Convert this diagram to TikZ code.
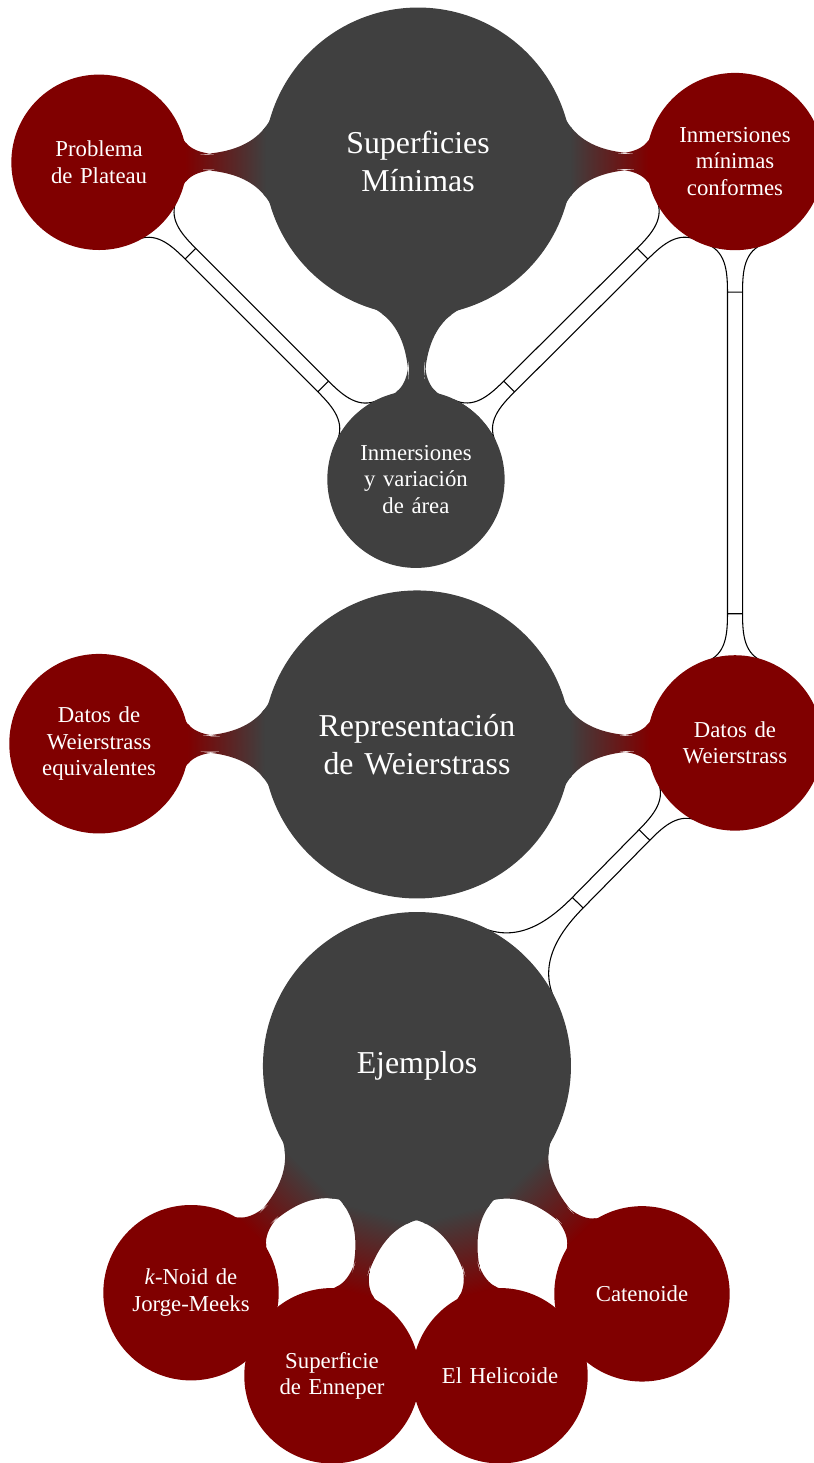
\documentclass[tikz,border=0pt]{standalone}
\usepackage{fontspec}
\setmainfont{Liberation Serif}
\usepackage{tikz}
\usetikzlibrary{mindmap}
\usetikzlibrary{backgrounds}

\colorlet{graycon}{black!75}
\colorlet{redcon}{red!50!black}

\tikzset{
  bigcon/.style={concept, concept color=graycon, text=white, minimum size=4cm,
    text width=3.6cm, align=center, font=\fontsize{11.9}{14.2}\selectfont},
  smallcon/.style={concept, concept color=redcon, text=white, minimum size=2.26cm,
    text width=2cm, align=center, font=\fontsize{8.5}{9.9}\selectfont},
  link/.style={circle connection bar switch color=from (#1) to (redcon)},
  cross/.style={thin, circle connection bar switch color=from (white) to (white)}
}

\begin{document}
\begin{tikzpicture}[mindmap]
    \useasboundingbox (0,0) rectangle (10.68,-19.2);
    % Superficies minimas
    \node[bigcon] (sup) at (5.486,-2.12) {Superficies\\M\'inimas};
    \node[smallcon] (plateau) at (1.30,-2.13) {Problema\\de Plateau};
    \node[smallcon] (conf) at (9.646,-2.12) {Inmersiones\\m\'inimas\\conformes};
    \node[smallcon, concept color=graycon] (area) at (5.459,-6.29) {Inmersiones\\y variaci\'on\\de \'area};
    % Representacion
    \node[bigcon] (rep) at (5.472,-9.77) {Representaci\'on\\de Weierstrass};
    \node[smallcon] (equiv) at (1.30,-9.76) {Datos de\\Weierstrass\\equivalentes};
    \node[smallcon] (datos) at (9.646,-9.75) {Datos de\\Weierstrass};
    % Ejemplos
    \node[bigcon] (ej) at (5.472,-13.99) {Ejemplos};
    \node[smallcon] (knoid) at (2.507,-16.965) {\textit{k}-Noid de\\Jorge-Meeks};
    \node[smallcon] (enneper) at (4.357,-18.055) {Superficie\\de Enneper};
    \node[smallcon] (heli) at (6.562,-18.055) {El Helicoide};
    \node[smallcon] (cat) at (8.425,-16.98) {Catenoide};
    % Concept connections
    \path (sup) to[link=graycon] (plateau);
    \path (sup) to[link=graycon] (conf);
    \path (sup) to[circle connection bar switch color=from (graycon) to (graycon)] (area);
    \path (rep) to[link=graycon] (equiv);
    \path (rep) to[link=graycon] (datos);
    \path (ej) to[link=graycon] (knoid);
    \path (ej) to[link=graycon] (enneper);
    \path (ej) to[link=graycon] (heli);
    \path (ej) to[link=graycon] (cat);
    % Cross links
    \begin{pgfonlayer}{background}
    \draw[cross] (plateau) to (area);
    \draw[cross] (conf) to (area);
    \draw[cross] (conf) to (datos);
    \draw[cross] (datos) to (ej);
    \end{pgfonlayer}
\end{tikzpicture}
\end{document}
